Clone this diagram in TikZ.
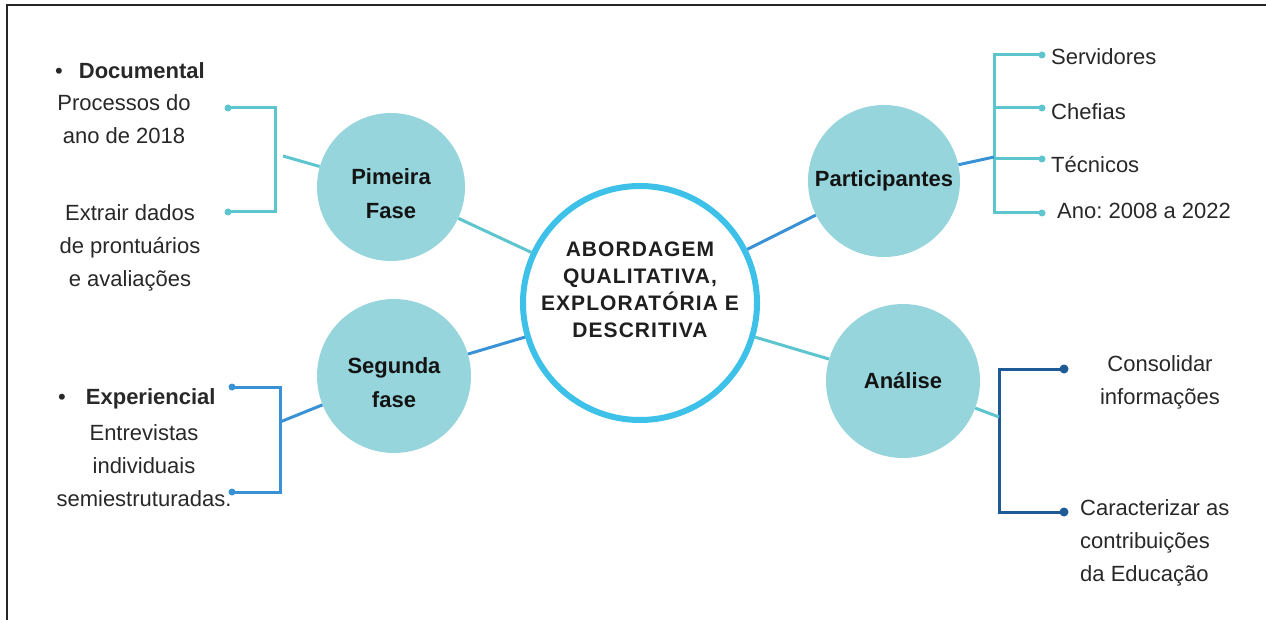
\documentclass[tikz,border=0pt]{standalone}
\usepackage{fontspec}
\setmainfont{Liberation Sans}
\usepackage{tikz}
\usepackage{xcolor}
\definecolor{bubble}{RGB}{150,213,220}
\definecolor{ring}{RGB}{62,193,232}
\definecolor{teal_line}{RGB}{93,197,206}
\definecolor{blue_line}{RGB}{58,146,214}
\definecolor{dark_line}{RGB}{30,90,150}
\definecolor{ink}{RGB}{40,40,40}

\begin{document}
\begin{tikzpicture}[x=1pt, y=-1pt,
    bubble node/.style = {circle, fill=bubble, inner sep=0pt, align=center,
        font=\fontsize{22}{34}\selectfont\bfseries, text=black!92},
    main node/.style = {circle, draw=ring, line width=6pt, fill=white, inner sep=0pt,
        minimum size=234pt, align=center, text=black!88,
        font=\fontsize{21}{27}\selectfont\bfseries\addfontfeature{LetterSpace=5}},
    body/.style = {inner sep=0pt, text=ink, align=center, font=\fontsize{22}{33}\selectfont},
    teal_link/.style = {draw=teal_line, line width=3pt},
    blue_link/.style = {draw=blue_line, line width=3pt},
    dark_link/.style = {draw=dark_line, line width=3pt}
  ]
  \useasboundingbox (0,0) rectangle (1266,620);
  \draw[line width=2.5pt, black!85] (7,620) -- (7,5) -- (1266,5);

  % circles
  \node[main node] (abq) at (640,303)
    {ABORDAGEM\\QUALITATIVA,\\EXPLORATÓRIA E\\DESCRITIVA\\\mbox{}};
  \node[bubble node, minimum size=148pt] (pf) at (391,187) {\mbox{}\\[-4pt]Pimeira\\Fase};
  \node[bubble node, minimum size=154pt] (sf) at (394,376) {\mbox{}\\[-4pt]Segunda\\fase};
  \node[bubble node, minimum size=152pt] (part) at (884,181) {Participantes};
  \node[bubble node, minimum size=154pt] (anl) at (903,381) {Análise};

  \draw[teal_link] (pf) -- (abq);
  \draw[blue_link] (sf) -- (abq);
  \draw[blue_link] (part) -- (abq);
  \draw[teal_link] (anl) -- (abq);

  % left side
  \node[body, anchor=base west] (doc) at (55,79) {\textbullet\hspace{16pt}\textbf{Documental}};
  \node[body] (proc) at (124,119) {Processos do\\ano de 2018};
  \node[body] (extr) at (130,248) {Extrair dados\\de prontuários\\e avaliações};
  \node[body, anchor=base west] (exp) at (58,404) {\textbullet\hspace{20pt}\textbf{Experiencial}};
  \node[body] (entr) at (144,466) {Entrevistas\\individuais\\semiestruturadas.};

  \coordinate (pf1) at (228,108);
  \coordinate (pf2) at (228,212);
  \coordinate (pfx) at (275,156);
  \coordinate (pfs) at (283,156);
  \draw[teal_link] (pf1) -| (pfx) |- (pf2);
  \draw[teal_link] (pfs) -- (pf);
  \fill[teal_line] (pf1) circle (3.5pt) (pf2) circle (3.5pt);

  \coordinate (sf1) at (232,387);
  \coordinate (sf2) at (232,492);
  \coordinate (sfx) at (280,422);
  \draw[blue_link] (sf1) -| (sfx) |- (sf2);
  \draw[blue_link] (sfx) -- (sf);
  \fill[blue_line] (sf1) circle (3.5pt) (sf2) circle (3.5pt);

  % right side
  \node[body, anchor=base west] (serv) at (1051,65) {Servidores};
  \node[body, anchor=base west] (chef) at (1051,120) {Chefias};
  \node[body, anchor=base west] (tec) at (1051,173) {Técnicos};
  \node[body, anchor=base west] (ano) at (1057,219) {Ano:\ 2008 a 2022};

  \coordinate (p1) at (1042,55);
  \coordinate (p2) at (1042,108);
  \coordinate (p3) at (1042,159);
  \coordinate (p4) at (1042,213);
  \coordinate (px) at (994,157);
  \draw[teal_link] (p1) -| (px) |- (p4);
  \draw[teal_link] (px |- p2) -- (p2);
  \draw[teal_link] (px |- p3) -- (p3);
  \draw[blue_link] (px) -- (part);
  \foreach \d in {p1,p2,p3,p4}
    \fill[teal_line] (\d) circle (3.5pt);

  \node[body] (cons) at (1160,382) {Consolidar\\informações};
  \node[body, anchor=west, align=left] (car) at (1080,543) {Caracterizar as\\contribuições\\da Educação};

  \coordinate (a1) at (1064,369);
  \coordinate (a2) at (1064,512);
  \coordinate (ax) at (999,417);
  \draw[dark_link] (a1) -| (ax) |- (a2);
  \draw[teal_link] (ax) -- (anl);
  \fill[dark_line] (a1) circle (4.5pt) (a2) circle (4.5pt);
\end{tikzpicture}
\end{document}
